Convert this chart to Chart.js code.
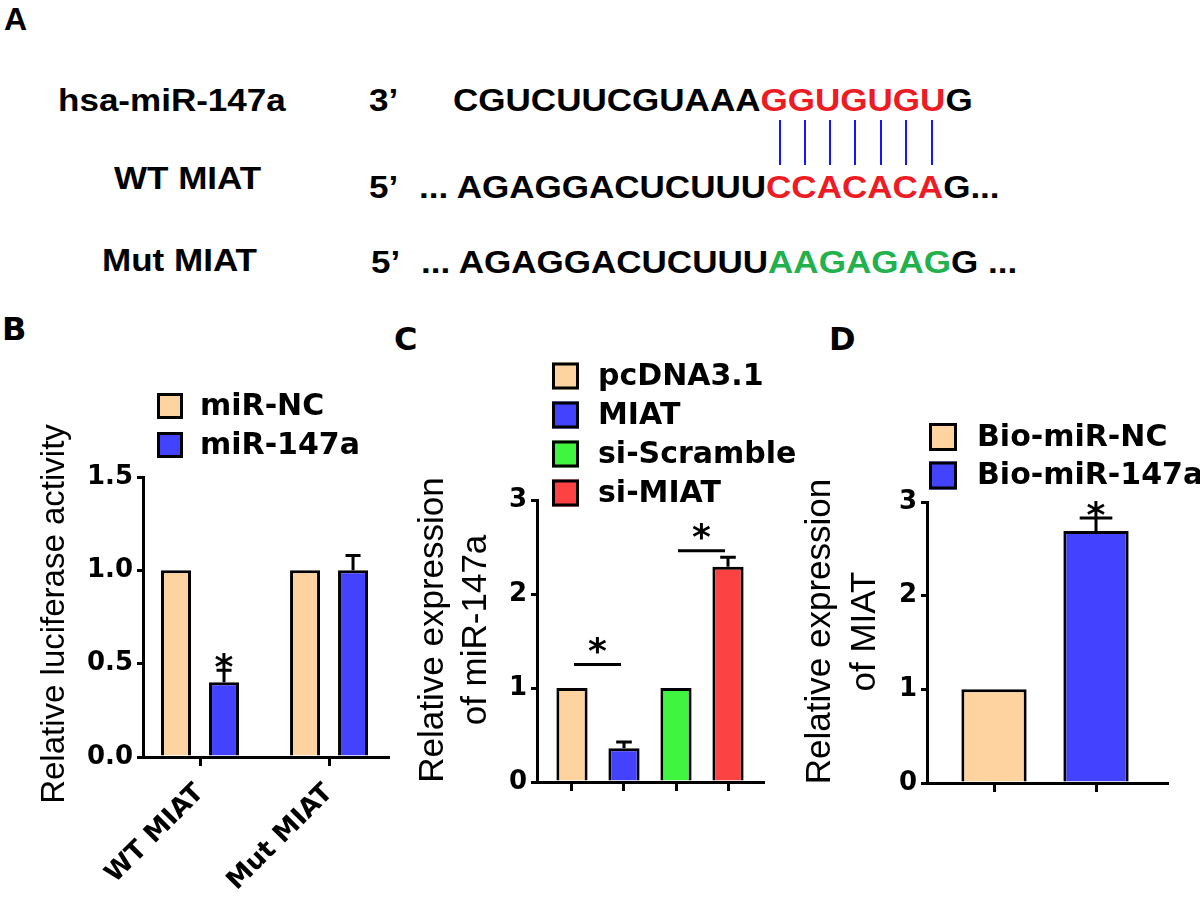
<!DOCTYPE html>
<html>
<head>
<meta charset="utf-8">
<script src="https://cdn.jsdelivr.net/npm/chart.js@4.4.1/dist/chart.umd.min.js"></script>
<style>
body { margin: 0; background: #fff; }
#page { position: relative; width: 1200px; height: 906px; overflow: hidden; background: #fff; }
.t { position: absolute; white-space: nowrap; font-weight: bold; line-height: 1; transform-origin: left center; color: #000; }
.seq { font-family: "Liberation Sans", Arial, sans-serif; font-size: 31px; transform: scaleX(1.13); }
.big { font-family: "Liberation Sans", Arial, sans-serif; font-size: 32px; }
.lbl { font-family: "DejaVu Sans", sans-serif; font-size: 32px; }
.r { color: #ed1c24; }
.g { color: #22b14c; }
.pair { position: absolute; width: 2px; height: 45px; top: 120px; background: #1515ff; }
canvas { position: absolute; }
</style>
</head>
<body>
<div id="page">
  <div class="t big" style="left:4px;top:3px">A</div>
  <div class="t seq" style="left:58px;top:85px">hsa-miR-147a</div>
  <div class="t seq" style="left:369px;top:85px">3’</div>
  <div class="t seq" style="left:453px;top:85px">CGUCUUCGUAAA<span class="r">GGUGUGU</span>G</div>
  <div class="t seq" style="left:114px;top:163px">WT MIAT</div>
  <div class="t seq" style="left:369px;top:172px">5’</div>
  <div class="t seq" style="left:419px;top:172px">... AGAGGACUCUUU<span class="r">CCACACA</span>G...</div>
  <div class="t seq" style="left:102px;top:245px">Mut MIAT</div>
  <div class="t seq" style="left:371px;top:247px">5’</div>
  <div class="t seq" style="left:421px;top:247px">... AGAGGACUCUUU<span class="g">AAGAGAG</span>G ...</div>
  <div class="pair" style="left:779px"></div>
  <div class="pair" style="left:804px"></div>
  <div class="pair" style="left:829px"></div>
  <div class="pair" style="left:854px"></div>
  <div class="pair" style="left:880px"></div>
  <div class="pair" style="left:905px"></div>
  <div class="pair" style="left:931px"></div>

  <div class="t lbl" style="left:2px;top:313px">B</div>
  <div class="t lbl" style="left:394px;top:323px">C</div>
  <div class="t lbl" style="left:829px;top:323px">D</div>

  <canvas id="chartB" width="400" height="606" style="left:0px;top:300px"></canvas>
  <canvas id="chartC" width="405" height="606" style="left:395px;top:300px"></canvas>
  <canvas id="chartD" width="410" height="606" style="left:790px;top:300px"></canvas>
</div>
<script>
// panel B - luciferase reporter
var bCats = ["WT MIAT", "Mut MIAT"];
var bSeries = ["miR-NC", "miR-147a"];
var bNC = [1.0, 1.0];
var bNCErr = [0, 0];
var b147 = [0.40, 1.0];
var b147Err = [0.065, 0.08];
var bStars = ["*", ""];
var bTitle = ["Relative luciferase activity"];

// panel C - miR-147a expression
var cCats = ["pcDNA3.1", "MIAT", "si-Scramble", "si-MIAT"];
var cVals = [1.0, 0.36, 1.0, 2.29];
var cErr = [0, 0.065, 0, 0.10];
var cSig = [[0, 1, 1.25], [2, 3, 2.46]];
var cTitle = ["Relative expression", "of miR-147a"];

// panel D - pull-down
var dCats = ["Bio-miR-NC", "Bio-miR-147a"];
var dVals = [1.0, 2.69];
var dErr = [0, 0.14];
var dStars = ["", "*"];
var dTitle = ["Relative expression", "of MIAT"];

var peach = "#fed39f";
var blue = "#4343ff";
var green = "#40f540";
var red = "#fc4242";
var cColors = [peach, blue, green, red];
var dColors = [peach, blue];

Chart.defaults.font.family = "'DejaVu Sans'";
Chart.defaults.color = "#000";

function drawStar(ctx, x, cy) {
    ctx.save();
    ctx.font = "bold 36px 'DejaVu Sans'";
    ctx.textAlign = "center";
    ctx.textBaseline = "alphabetic";
    ctx.fillStyle = "#000";
    ctx.fillText("*", x, cy + 20);
    ctx.restore();
}

function legendPlugin(items, x, y, step, box, textX) {
    return {
        id: "boxLegend",
        afterDraw: function (chart) {
            var ctx = chart.ctx;
            ctx.save();
            ctx.font = "bold 30px 'DejaVu Sans'";
            ctx.textBaseline = "middle";
            items.forEach(function (it, i) {
                var cy = y + i * step;
                ctx.fillStyle = it.color;
                ctx.fillRect(x, cy - box / 2, box, box);
                ctx.lineWidth = 3;
                ctx.strokeStyle = "#000";
                ctx.strokeRect(x + 1.5, cy - box / 2 + 1.5, box - 3, box - 3);
                ctx.fillStyle = "#000";
                ctx.fillText(it.label, textX, cy + 1);
            });
            ctx.restore();
        }
    };
}

// rotated y axis title, centred a little off the plot centre like the original
function titlePlugin(lines, size, x, step, dy) {
    return {
        id: "yTitle",
        afterDraw: function (chart) {
            var ctx = chart.ctx, a = chart.chartArea;
            var cy = (a.top + a.bottom) / 2 + dy;
            ctx.save();
            ctx.font = size + "px 'Liberation Sans'";
            ctx.fillStyle = "#000";
            ctx.textAlign = "center";
            ctx.textBaseline = "middle";
            lines.forEach(function (t, i) {
                ctx.save();
                ctx.translate(x + i * step, cy);
                ctx.rotate(-Math.PI / 2);
                ctx.fillText(t, 0, 0);
                ctx.restore();
            });
            ctx.restore();
        }
    };
}

function errPlugin(sig) {
    return {
        id: "errBars",
        afterDatasetsDraw: function (chart) {
            var ctx = chart.ctx;
            var ys = chart.scales.y, xs = chart.scales.x;
            ctx.save();
            ctx.strokeStyle = "#000";
            ctx.lineWidth = 3;
            chart.data.datasets.forEach(function (ds, di) {
                chart.getDatasetMeta(di).data.forEach(function (bar, i) {
                    var v = ds.data[i].y;
                    var e = ds.errors ? ds.errors[i] : 0;
                    var top = bar.y;
                    if (e) {
                        var ye = ys.getPixelForValue(v + e);
                        var cw = bar.width * 0.5;
                        ctx.beginPath();
                        ctx.moveTo(bar.x, bar.y);
                        ctx.lineTo(bar.x, ye);
                        ctx.moveTo(bar.x - cw / 2, ye);
                        ctx.lineTo(bar.x + cw / 2, ye);
                        ctx.stroke();
                        top = ye;
                    }
                    if (ds.stars && ds.stars[i]) {
                        drawStar(ctx, bar.x, top - 11);
                    }
                });
            });
            (sig || []).forEach(function (s) {
                var x1 = xs.getPixelForValue(s[0] + 1) + 2;
                var x2 = xs.getPixelForValue(s[1] + 1) - 3;
                var yy = ys.getPixelForValue(s[2]);
                ctx.beginPath();
                ctx.moveTo(x1, yy);
                ctx.lineTo(x2, yy);
                ctx.stroke();
                drawStar(ctx, (x1 + x2) / 2, yy - 22);
            });
            ctx.restore();
        }
    };
}

function yAxis(max, step, width, fmt) {
    return {
        min: 0,
        max: max,
        afterFit: function (s) { s.width = width; },
        border: { display: true, color: "#000", width: 3 },
        grid: { drawOnChartArea: false, drawTicks: true, tickLength: 6, lineWidth: 3, color: "#000" },
        ticks: { stepSize: step, padding: 4, color: "#000", font: { size: 26, weight: "bold" }, callback: fmt },
        title: { display: false }
    };
}

function xAxis(cats, min, max, height, showLabels) {
    return {
        type: "linear",
        min: min,
        max: max,
        offset: false,
        afterFit: function (s) { s.height = height; },
        afterBuildTicks: function (s) {
            s.ticks = cats.map(function (c, i) { return { value: i + 1 }; });
        },
        border: { display: true, color: "#000", width: 3 },
        grid: { offset: false, drawOnChartArea: false, drawTicks: true, tickLength: 9, lineWidth: 3, color: "#000" },
        ticks: {
            display: showLabels,
            autoSkip: false,
            minRotation: 45,
            maxRotation: 45,
            padding: 12,
            color: "#000",
            font: { size: 26, weight: "bold" },
            callback: function (v) { return cats[v - 1] || ""; }
        }
    };
}

function pts(cats, vals) {
    return cats.map(function (c, i) { return { x: i + 1, y: vals[i] }; });
}

var common = {
    responsive: false,
    animation: false,
    devicePixelRatio: 1,
    plugins: { legend: { display: false }, tooltip: { enabled: false } }
};

// B
new Chart("chartB", {
    type: "bar",
    data: {
        datasets: [{
            label: bSeries[0],
            data: pts(bCats, bNC),
            errors: bNCErr,
            backgroundColor: peach,
            borderColor: "#000",
            borderWidth: 3,
            categoryPercentage: 0.744,
            barPercentage: 0.625
        }, {
            label: bSeries[1],
            data: pts(bCats, b147),
            errors: b147Err,
            stars: bStars,
            backgroundColor: blue,
            borderColor: "#000",
            borderWidth: 3,
            categoryPercentage: 0.744,
            barPercentage: 0.625
        }]
    },
    options: Object.assign({}, common, {
        layout: { padding: { left: 0, top: 177, right: 12, bottom: 0 } },
        scales: {
            x: xAxis(bCats, 0.558, 2.457, 149, true),
            y: yAxis(1.5, 0.5, 143, function (v) { return v.toFixed(1); })
        }
    }),
    plugins: [errPlugin(), titlePlugin(bTitle, 33, 55, 0, -3), legendPlugin([
        { label: bSeries[0], color: peach },
        { label: bSeries[1], color: blue }
    ], 157, 106, 39, 26, 200)]
});

// C
new Chart("chartC", {
    type: "bar",
    data: {
        datasets: [{
            label: "miR-147a",
            data: pts(cCats, cVals),
            errors: cErr,
            backgroundColor: cColors,
            borderColor: "#000",
            borderWidth: 3,
            categoryPercentage: 0.6,
            barPercentage: 1
        }]
    },
    options: Object.assign({}, common, {
        layout: { padding: { left: 0, top: 200, right: 37, bottom: 0 } },
        scales: {
            x: xAxis(cCats, 0.327, 4.673, 124, false),
            y: yAxis(3, 1, 142, function (v) { return String(v); })
        }
    }),
    plugins: [errPlugin(cSig), titlePlugin(cTitle, 35, 38, 43, -11), legendPlugin(cCats.map(function (c, i) {
        return { label: c, color: cColors[i] };
    }), 157, 76, 39, 27, 203)]
});

// D
new Chart("chartD", {
    type: "bar",
    data: {
        datasets: [{
            label: "MIAT",
            data: pts(dCats, dVals),
            errors: dErr,
            stars: dStars,
            backgroundColor: dColors,
            borderColor: "#000",
            borderWidth: 3,
            categoryPercentage: 0.64,
            barPercentage: 1
        }]
    },
    options: Object.assign({}, common, {
        layout: { padding: { left: 0, top: 202, right: 33, bottom: 0 } },
        scales: {
            x: xAxis(dCats, 0.343, 2.696, 123, false),
            y: yAxis(3, 1, 137, function (v) { return String(v); })
        }
    }),
    plugins: [errPlugin(), titlePlugin(dTitle, 35, 30, 45, -11), legendPlugin(dCats.map(function (c, i) {
        return { label: c, color: dColors[i] };
    }), 139, 137, 38.5, 28, 187)]
});
</script>
</body>
</html>
